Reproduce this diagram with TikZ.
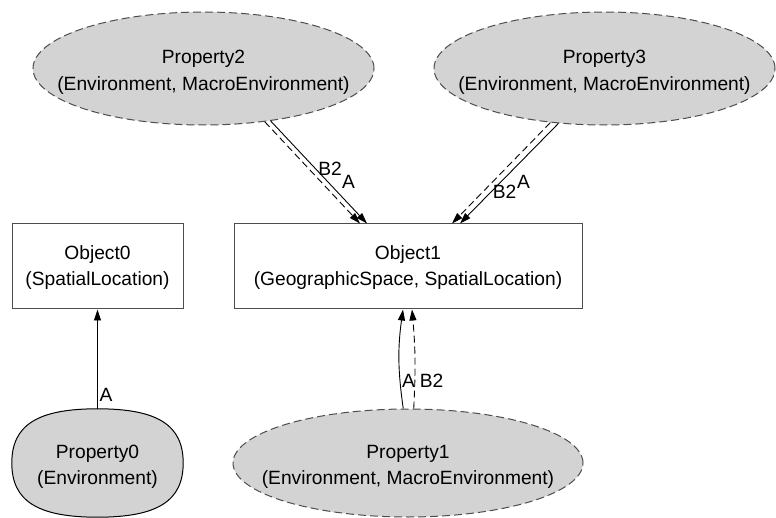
\documentclass[tikz,border=0pt]{standalone}
\usepackage{fontspec}
\setmainfont{Liberation Sans}
\usetikzlibrary{arrows.meta,calc,shapes.geometric}
\pgfdeclarelayer{background}
\pgfsetlayers{background,main}
\definecolor{nodefill}{HTML}{D3D3D3}
\definecolor{linegray}{HTML}{4D4D4D}
\begin{document}
\begin{tikzpicture}[x=1pt,y=-1pt,
  font=\fontsize{19.2}{26.5}\selectfont,
  objbox/.style={draw=linegray,line width=1pt,rectangle,minimum height=85pt,inner sep=0pt},
  propshape/.style={ellipse,fill=nodefill,draw=linegray,line width=1pt,dash pattern=on 8pt off 4pt,inner sep=0pt},
  caption/.style={align=center,inner sep=0pt},
  rel/.style={draw=black,line width=0.9pt,-{Triangle[length=11pt,width=7pt]}},
  relB/.style={rel,dash pattern=on 7pt off 4pt},
  tag/.style={inner sep=0pt}
]
\useasboundingbox (0,0) rectangle (776,518);

% object boxes
\node[objbox,minimum width=171pt] (o0) at (97.5,266.5) {};
\node[caption] (o0t) at ($(o0)+(0,1)$) {Object0\\(SpatialLocation)};
\node[objbox,minimum width=348pt] (o1) at (408,266.5) {};
\node[caption] (o1t) at ($(o1)+(0,1)$) {Object1\\(GeographicSpace, SpatialLocation)};

% property ellipses
\node[propshape,minimum width=341pt,minimum height=113pt] (p2) at (203.5,68.5) {};
\node[caption] (p2t) at ($(p2)+(0,4)$) {Property2\\(Environment, MacroEnvironment)};
\node[propshape,minimum width=341pt,minimum height=113pt] (p3) at (604.5,68.5) {};
\node[caption] (p3t) at ($(p3)+(0,4)$) {Property3\\(Environment, MacroEnvironment)};
\node[propshape,minimum width=350pt,minimum height=108pt] (p1) at (408,463) {};
\node[caption] (p1t) at ($(p1)+(0,4)$) {Property1\\(Environment, MacroEnvironment)};

% Property0: a rounded blob with a solid outline
\node[ellipse,inner sep=0pt,minimum width=171pt,minimum height=108pt] (p0) at (97.5,463) {};
\begin{pgfonlayer}{background}
\path[fill=nodefill,draw=black,line width=1pt]
  (p0.north) .. controls +(60,0) and +(0,-38) .. (p0.east)
  .. controls +(0,38) and +(60,0) .. (p0.south)
  .. controls +(-60,0) and +(0,38) .. (p0.west)
  .. controls +(0,-38) and +(-60,0) .. (p0.north) -- cycle;
\end{pgfonlayer}
\node[caption] (p0t) at ($(p0)+(0,4)$) {Property0\\(Environment)};

% relations
\draw[rel]  (p0.north) -- (o0.south);
\draw[rel]  (p2.-38.8) -- ($(o1.north)+(-41,0)$);
\draw[relB] (p2.-41.4) -- ($(o1.north)+(-48,0)$);
\draw[rel]  (p3.-130.2) -- ($(o1.north)+(52,0)$);
\draw[relB] (p3.-135.8) -- ($(o1.north)+(44,0)$);
\draw[rel]  (p1.95.3) to[bend left=8] ($(o1.south)+(-5,0)$);
\draw[relB] (p1.84.7) to[bend right=4] ($(o1.south)+(4,0)$);

% relation labels
\node[tag] (l0a) at (106,395) {A};
\node[tag] (l1a) at (408.5,381) {A};
\node[tag] (l1b) at (431.5,381) {B2};
\node[tag] (l2b) at (330,168.5) {B2};
\node[tag] (l2a) at (348.5,181.5) {A};
\node[tag] (l3b) at (504.5,192) {B2};
\node[tag] (l3a) at (523.5,181.5) {A};
\end{tikzpicture}
\end{document}
